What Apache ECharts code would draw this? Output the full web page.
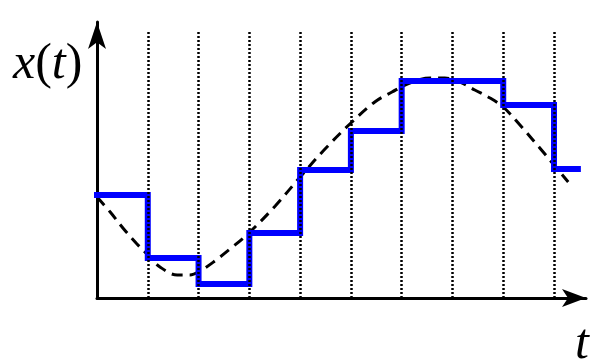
<!DOCTYPE html>
<html>
<head>
<meta charset="utf-8">
<style>
  html, body { margin: 0; padding: 0; background: #ffffff; }
  #chart { width: 601px; height: 361px; }
</style>
<script src="https://cdn.jsdelivr.net/npm/echarts@6/dist/echarts.min.js"></script>
</head>
<body>
<div id="chart"></div>
<script>
// Sampling instants (one unit = one sampling period)
var sampleTimes = [0, 1, 2, 3, 4, 5, 6, 7, 8, 9];
// Held (sampled) values, one per instant
var heldValues = [103, 40, 14, 65, 128, 167, 217, 217, 193, 129];
// Time at which the last hold level ends
var holdEnd = 9.47;

// Continuous signal x(t): times and values
var signalTimes = [0, 0.26, 0.51, 0.77, 1.0, 1.24, 1.58, 1.83, 2.03, 2.32, 2.62, 2.99, 3.51, 4.0, 4.49, 5.0, 5.47, 5.81, 6.16, 6.56, 6.85, 7.15, 7.44, 7.74, 8.0, 8.33, 8.72, 9.0, 9.28];
var signalValues = [101, 86, 70, 55, 43, 31, 23, 23, 27, 37, 49, 65, 92, 121, 149, 175, 196, 206, 215, 220, 220, 216, 208, 200, 191, 173, 150, 133, 116];

// Dotted sample markers (at every instant after the origin) and their height
var markerTimes = [1, 2, 3, 4, 5, 6, 7, 8, 9];
var markerTop = 266;

// Axis extents
var tMax = 9.63;
var xMax = 276;

var stepData = sampleTimes.map(function (t, i) { return [t, heldValues[i]]; });
stepData.push([holdEnd, heldValues[heldValues.length - 1]]);

var signalData = signalTimes.map(function (t, i) { return [t, signalValues[i]]; });

var markerLines = markerTimes.map(function (t) {
  return [{ coord: [t, 0] }, { coord: [t, markerTop] }];
});

var chart = echarts.init(document.getElementById('chart'), null, { renderer: 'canvas' });

var axisCommon = {
  type: 'value',
  axisTick: { show: false },
  axisLabel: { show: false },
  splitLine: { show: false },
  axisLine: {
    show: true,
    onZero: false,
    symbol: ['none', 'arrow'],
    lineStyle: { color: '#000', width: 3 }
  }
};

var serif = '"Liberation Serif", "DejaVu Serif", serif';
var mathRich = {
  v: { fontFamily: serif, fontStyle: 'italic', fontSize: 50, color: '#000' },
  p: { fontFamily: serif, fontStyle: 'normal', fontSize: 50, color: '#000' }
};

chart.setOption({
  animation: false,
  backgroundColor: '#ffffff',
  grid: { left: 97, right: 15, top: 22, bottom: 63, containLabel: false },
  xAxis: Object.assign({}, axisCommon, {
    min: 0, max: tMax,
    axisLine: Object.assign({}, axisCommon.axisLine, { symbolSize: [13.5, 24] })
  }),
  yAxis: Object.assign({}, axisCommon, {
    min: 0, max: xMax,
    axisLine: Object.assign({}, axisCommon.axisLine, { symbolSize: [13.5, 27] })
  }),
  graphic: [
    {
      type: 'text', left: 13, top: 40, silent: true,
      style: {
        text: '{v|x}{p|(}{v|t}{p|)}',
        rich: mathRich
      }
    },
    {
      type: 'text', left: 575, top: 320, silent: true,
      style: {
        text: '{v|t}',
        rich: mathRich
      }
    }
  ],
  series: [
    {
      name: 'markers',
      type: 'line',
      data: [],
      silent: true,
      markLine: {
        silent: true,
        symbol: ['none', 'none'],
        label: { show: false },
        lineStyle: { color: '#000', width: 2.5, type: [2, 2] },
        emphasis: { disabled: true },
        data: markerLines
      }
    },
    {
      name: 'x(t)',
      type: 'line',
      data: signalData,
      smooth: 0.35,
      showSymbol: false,
      silent: true,
      lineStyle: { color: '#000', width: 3, type: [11, 7] }
    },
    {
      name: 'held',
      type: 'line',
      step: 'end',
      data: stepData,
      showSymbol: false,
      silent: true,
      lineStyle: { color: '#0000ff', width: 6, join: 'miter', cap: 'square' }
    }
  ]
});
</script>
</body>
</html>
